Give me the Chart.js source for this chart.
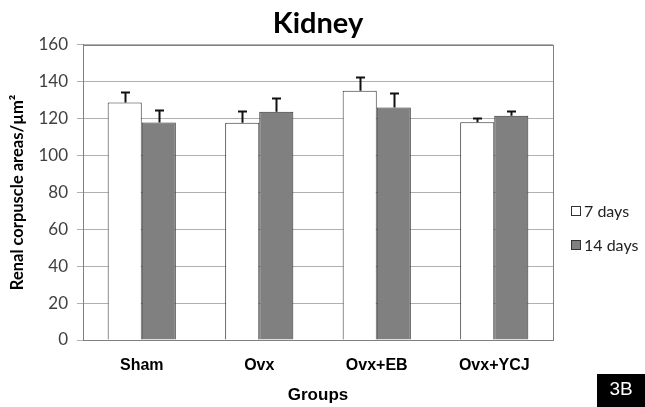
<!DOCTYPE html>
<html>
<head>
<meta charset="utf-8">
<script src="https://cdn.jsdelivr.net/npm/chart.js@4/dist/chart.umd.min.js"></script>
<style>
  html, body { margin: 0; padding: 0; background: #fff; }
  canvas { display: block; }
</style>
</head>
<body>
<canvas id="chart" width="645" height="407"></canvas>
<script>
// Renal corpuscle area per group, mean with upper SD bar
const categories = ['Sham', 'Ovx', 'Ovx+EB', 'Ovx+YCJ'];
const days7 = [128.7, 117.7, 135.1, 118.0];
const days7Err = [5.8, 6.3, 7.7, 2.4];
const days14 = [117.9, 123.7, 126.0, 121.5];
const days14Err = [7.0, 7.7, 8.0, 2.5];
const yMin = 0, yMax = 160, yStep = 20;
const seriesLabels = ['7 days', '14 days'];

const calibriLike = 'Lato, "Open Sans", sans-serif';
const arialLike = '"Liberation Sans", Arial, sans-serif';

// Upper error bars with caps, positioned through the chart's scales
const errorBars = {
  id: 'errorBars',
  afterDatasetsDraw(chart) {
    const ctx = chart.ctx;
    const y = chart.scales.y;
    ctx.save();
    ctx.strokeStyle = '#111';
    ctx.lineWidth = 2;
    chart.data.datasets.forEach((ds, i) => {
      const meta = chart.getDatasetMeta(i);
      meta.data.forEach((bar, j) => {
        const v = ds.data[j], e = ds.errors[j];
        const y0 = y.getPixelForValue(v);
        const y1 = y.getPixelForValue(v + e);
        const x = Math.round(bar.x) + 0.5;
        ctx.beginPath();
        ctx.moveTo(x, y0);
        ctx.lineTo(x, y1);
        ctx.moveTo(x - 4.5, Math.round(y1) + 0.5);
        ctx.lineTo(x + 4.5, Math.round(y1) + 0.5);
        ctx.stroke();
      });
    });
    ctx.restore();
  }
};

// Plot-area frame
const frame = {
  id: 'frame',
  beforeDatasetsDraw(chart) {
    const { ctx, chartArea: a } = chart;
    ctx.save();
    ctx.strokeStyle = '#808080';
    ctx.lineWidth = 1;
    ctx.strokeRect(Math.round(a.left) + 0.5, Math.round(a.top) + 0.5,
                   Math.round(a.right - a.left), Math.round(a.bottom - a.top));
    ctx.restore();
  }
};

// Side legend and the panel tag
const sideLegend = {
  id: 'sideLegend',
  afterDraw(chart) {
    const ctx = chart.ctx;
    ctx.save();
    const rows = [211, 245];
    chart.data.datasets.forEach((ds, i) => {
      const cy = rows[i];
      ctx.fillStyle = ds.backgroundColor;
      ctx.fillRect(571.5, cy - 4.5, 9, 9);
      ctx.strokeStyle = '#333';
      ctx.lineWidth = 1;
      ctx.strokeRect(571.5, cy - 4.5, 9, 9);
      ctx.fillStyle = '#222';
      ctx.font = '16px ' + calibriLike;
      ctx.textBaseline = 'middle';
      ctx.textAlign = 'left';
      ctx.fillText(ds.label, 584, cy + 1);
    });
    ctx.fillStyle = '#000';
    ctx.fillRect(597, 374, 48, 33);
    ctx.fillStyle = '#fff';
    ctx.font = '19px ' + arialLike;
    ctx.textAlign = 'center';
    ctx.textBaseline = 'middle';
    ctx.fillText('3B', 621, 390);
    ctx.restore();
  }
};

new Chart(document.getElementById('chart'), {
  type: 'bar',
  data: {
    labels: categories,
    datasets: [
      { label: seriesLabels[0], data: days7, errors: days7Err,
        backgroundColor: '#ffffff', borderColor: '#333333', borderWidth: 1 },
      { label: seriesLabels[1], data: days14, errors: days14Err,
        backgroundColor: '#808080', borderColor: '#333333', borderWidth: 1 }
    ]
  },
  options: {
    responsive: false,
    animation: false,
    devicePixelRatio: 1,
    layout: { padding: { left: 0, right: 92, top: 0, bottom: 0 } },
    datasets: { bar: { barPercentage: 1, categoryPercentage: 0.58 } },
    plugins: {
      legend: { display: false },
      tooltip: { enabled: false },
      title: {
        display: true,
        fullSize: false,
        text: 'Kidney',
        color: '#000',
        font: { family: calibriLike, size: 29, weight: 'bold' },
        padding: { top: 6, bottom: 4 }
      }
    },
    scales: {
      x: {
        afterFit: s => { s.height = 67; },
        grid: { display: false },
        border: { color: '#808080' },
        ticks: {
          color: '#000',
          font: { family: arialLike, size: 16, weight: 'bold' },
          padding: 8
        },
        title: {
          display: true,
          text: 'Groups',
          color: '#000',
          font: { family: arialLike, size: 17, weight: 'bold' },
          padding: { top: 0, bottom: 1 }
        }
      },
      y: {
        min: yMin, max: yMax,
        afterFit: s => { s.width = 83; },
        grid: { color: '#b0b0b0', tickLength: 6 },
        border: { color: '#808080' },
        ticks: {
          stepSize: yStep,
          color: '#404040',
          font: { family: calibriLike, size: 17 },
          padding: 9
        },
        title: {
          display: true,
          text: 'Renal corpuscle areas/µm²',
          color: '#000',
          font: { family: calibriLike, size: 16.5, weight: 'bold' },
          padding: { top: 8, bottom: 0 }
        }
      }
    }
  },
  plugins: [frame, errorBars, sideLegend]
});
</script>
</body>
</html>
